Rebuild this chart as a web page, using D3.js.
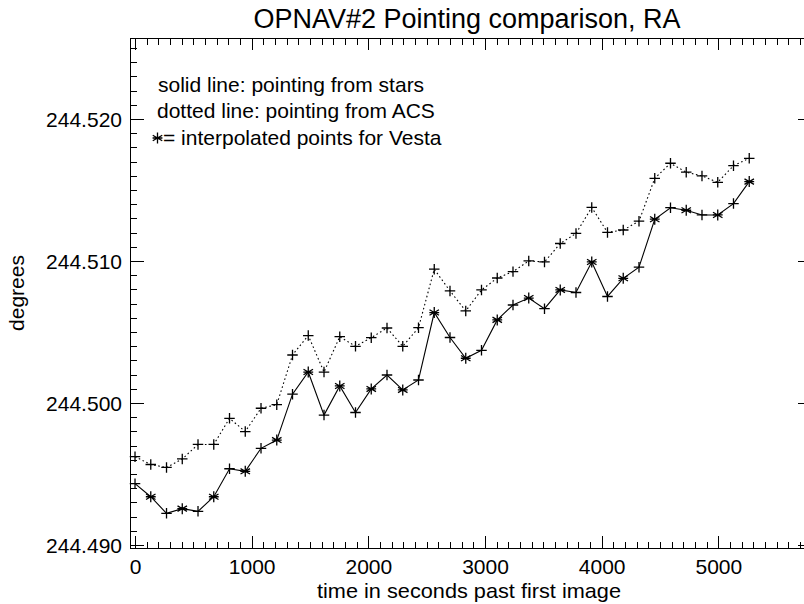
<!DOCTYPE html>
<html>
<head>
<meta charset="utf-8">
<script src="https://cdn.jsdelivr.net/npm/d3@7"></script>
<style>
  body { margin: 0; background: #fff; }
  svg { display: block; }
  text { font-family: "Liberation Sans", Arial, Helvetica, sans-serif; fill: #000; }
</style>
</head>
<body>
<svg id="chart" width="804" height="604"></svg>
<script>
// Time of each OPNAV frame, seconds past the first image
const times = [0, 135, 270, 405, 540, 675, 810, 945, 1080, 1215,
               1350, 1485, 1620, 1755, 1890, 2025, 2160, 2295, 2430, 2565,
               2700, 2835, 2970, 3105, 3240, 3375, 3510, 3645, 3780, 3915,
               4050, 4185, 4320, 4455, 4590, 4725, 4860, 4995, 5130, 5265];

// Right ascension from the star fits (solid line), degrees
const raStars = [244.49432, 244.49340, 244.49223, 244.49256, 244.49237, 244.49340, 244.49537, 244.49519, 244.49681, 244.49739,
                 244.50062, 244.50218, 244.49915, 244.50120, 244.49933, 244.50099, 244.50197, 244.50092, 244.50162, 244.50637,
                 244.50461, 244.50315, 244.50371, 244.50585, 244.50690, 244.50739, 244.50664, 244.50796, 244.50778, 244.50993,
                 244.50750, 244.50878, 244.50956, 244.51294, 244.51375, 244.51357, 244.51324, 244.51324, 244.51404, 244.51559];

// Right ascension reported by the attitude control system (dotted line), degrees
const raACS = [244.49622, 244.49567, 244.49546, 244.49606, 244.49708, 244.49708, 244.49892, 244.49799, 244.49963, 244.49988,
               244.50338, 244.50475, 244.50218, 244.50467, 244.50399, 244.50460, 244.50528, 244.50399, 244.50530, 244.50942,
               244.50789, 244.50648, 244.50796, 244.50880, 244.50925, 244.51000, 244.50993, 244.51123, 244.51194, 244.51377,
               244.51201, 244.51218, 244.51280, 244.51582, 244.51688, 244.51625, 244.51599, 244.51554, 244.51671, 244.51723];

// Symbol of each star-fit point: "*" marks points interpolated for Vesta
const starSymbols = ["+", "*", "+", "*", "+", "*", "+", "*", "+", "*",
                     "+", "*", "+", "*", "+", "*", "+", "*", "+", "*",
                     "+", "*", "+", "*", "+", "*", "+", "*", "+", "*",
                     "+", "*", "+", "*", "+", "*", "+", "*", "+", "*"];

const xTickValues = [0, 1000, 2000, 3000, 4000, 5000];
const xTickLabels = ["0", "1000", "2000", "3000", "4000", "5000"];
const yTickValues = [244.490, 244.500, 244.510, 244.520];
const yTickLabels = ["244.490", "244.500", "244.510", "244.520"];

const titleText = "OPNAV#2 Pointing comparison, RA";
const xTitle = "time in seconds past first image";
const yTitle = "degrees";
const legendLines = ["solid line: pointing from stars", "dotted line: pointing from ACS", "= interpolated points for Vesta"];

// ---- layout ----
const svg = d3.select("#chart");
const plot = { left: 130, right: 812, top: 38, bottom: 548 };

const x = d3.scaleLinear().domain([-43, 5803]).range([plot.left, plot.right]);
const y = d3.scaleLinear().domain([244.48979, 244.52570]).range([plot.bottom, plot.top]);

const xMinor = d3.range(0, 5801, 100);
const yMinor = d3.range(244490, 244526, 1).map(v => v / 1000);

const majorY = 14, minorY = 7, majorX = 12, minorX = 6.5;

function tickAxis(axis, cls, transform) {
  const g = svg.append("g").attr("class", cls).attr("transform", transform).call(axis);
  g.select(".domain").remove();
  g.selectAll("line").attr("stroke", "#000").attr("stroke-width", 1).attr("shape-rendering", "crispEdges");
  return g;
}

// bottom axis (ticks pointing up into the plot)
tickAxis(d3.axisBottom(x).tickValues(xMinor).tickSize(-minorX).tickFormat(""), "x-minor", `translate(0,${plot.bottom})`);
const xb = tickAxis(d3.axisBottom(x).tickValues(xTickValues).tickSize(-majorX)
  .tickFormat((d, i) => xTickLabels[i]), "x-major", `translate(0,${plot.bottom})`);
xb.selectAll("text").attr("font-size", 21).attr("dy", null).attr("y", 26);

// top axis (ticks pointing down)
tickAxis(d3.axisTop(x).tickValues(xMinor).tickSize(-minorX).tickFormat(""), "x-minor-top", `translate(0,${plot.top})`);
tickAxis(d3.axisTop(x).tickValues(xTickValues).tickSize(-majorX).tickFormat(""), "x-major-top", `translate(0,${plot.top})`);

// left axis (ticks pointing right)
tickAxis(d3.axisLeft(y).tickValues(yMinor).tickSize(-minorY).tickFormat(""), "y-minor", `translate(${plot.left},0)`);
const yl = tickAxis(d3.axisLeft(y).tickValues(yTickValues).tickSize(-majorY).tickPadding(8)
  .tickFormat((d, i) => yTickLabels[i]), "y-major", `translate(${plot.left},0)`);
yl.selectAll("text").attr("font-size", 21).attr("dy", "0.36em");

// right axis (ticks pointing left)
tickAxis(d3.axisRight(y).tickValues(yMinor).tickSize(-minorY).tickFormat(""), "y-minor-right", `translate(${plot.right},0)`);
tickAxis(d3.axisRight(y).tickValues(yTickValues).tickSize(-majorY).tickFormat(""), "y-major-right", `translate(${plot.right},0)`);

// frame
svg.append("rect")
  .attr("x", plot.left + 0.5).attr("y", plot.top + 0.5)
  .attr("width", plot.right - plot.left).attr("height", plot.bottom - plot.top)
  .attr("fill", "none").attr("stroke", "#000").attr("stroke-width", 1)
  .attr("shape-rendering", "crispEdges");

// ---- symbols ----
const plusType = {
  draw(ctx, size) {
    const r = Math.sqrt(size) / 2;
    ctx.moveTo(-r, 0); ctx.lineTo(r, 0);
    ctx.moveTo(0, -r); ctx.lineTo(0, r);
  }
};
const asteriskType = {
  draw(ctx, size) {
    const r = Math.sqrt(size) / 2;
    const c = r * Math.cos(Math.PI / 6), s = r * Math.sin(Math.PI / 6);
    ctx.moveTo(0, -r); ctx.lineTo(0, r);
    ctx.moveTo(-c, -s); ctx.lineTo(c, s);
    ctx.moveTo(-c, s); ctx.lineTo(c, -s);
    ctx.moveTo(-r * 0.9, 0); ctx.lineTo(r * 0.9, 0);
  }
};
const plusSym = d3.symbol().type(plusType).size(110);
const starSym = d3.symbol().type(asteriskType).size(120);

// ---- series ----
const line = d3.line().x(d => x(d[0])).y(d => y(d[1]));
const acsPts = times.map((t, i) => [t, raACS[i]]);
const starPts = times.map((t, i) => [t, raStars[i]]);

svg.append("path").datum(acsPts).attr("d", line)
  .attr("fill", "none").attr("stroke", "#000").attr("stroke-width", 1.1)
  .attr("stroke-dasharray", "1.6,2.6");
svg.append("path").datum(starPts).attr("d", line)
  .attr("fill", "none").attr("stroke", "#000").attr("stroke-width", 1.1);

svg.append("g").selectAll("path").data(acsPts).join("path")
  .attr("transform", d => `translate(${x(d[0])},${y(d[1])})`)
  .attr("d", plusSym()).attr("fill", "none").attr("stroke", "#000").attr("stroke-width", 1.3);

svg.append("g").selectAll("path").data(starPts).join("path")
  .attr("transform", d => `translate(${x(d[0])},${y(d[1])})`)
  .attr("d", (d, i) => starSymbols[i] === "*" ? starSym() : plusSym())
  .attr("fill", "none").attr("stroke", "#000").attr("stroke-width", 1.3);

// ---- text ----
svg.append("text").attr("x", 467).attr("y", 28).attr("text-anchor", "middle")
  .attr("font-size", 27).text(titleText);

svg.append("text").attr("x", 469).attr("y", 598).attr("text-anchor", "middle")
  .attr("font-size", 21).attr("textLength", 304).attr("lengthAdjust", "spacingAndGlyphs").text(xTitle);

svg.append("text").attr("transform", "translate(24,293) rotate(-90)").attr("text-anchor", "middle")
  .attr("font-size", 21).text(yTitle);

const legend = svg.append("g").attr("class", "legend");
legend.append("text").attr("x", 158).attr("y", 92).attr("font-size", 21).text(legendLines[0]);
legend.append("text").attr("x", 157).attr("y", 118).attr("font-size", 21).text(legendLines[1]);
legend.append("path").attr("transform", "translate(157.5,138)").attr("d", starSym())
  .attr("fill", "none").attr("stroke", "#000").attr("stroke-width", 1.3);
legend.append("text").attr("x", 163).attr("y", 145).attr("font-size", 21).text(legendLines[2]);
</script>
</body>
</html>
